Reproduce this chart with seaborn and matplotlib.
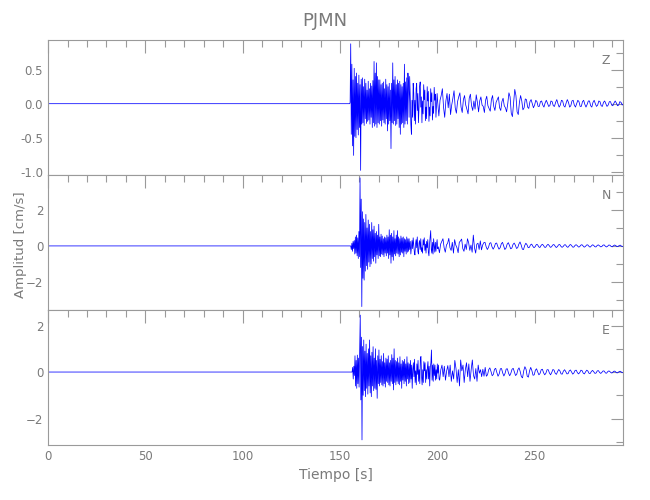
import numpy as np
import pandas as pd
from matplotlib import pyplot as plt
from matplotlib.ticker import MultipleLocator
import seaborn as sns


# ---- Data ---------------------------------------------------------------------

station = "PJMN"
channels = ["Z", "N", "E"]

# quiet part before the arrivals
pre_t = [0.0, 155.0]
pre_vals = [0.0, 0.0]

# strong-motion part, sampled every 0.3 s from the onset
dense_dt = 0.3
dense_start = {"Z": 155.2, "N": 155.5, "E": 156.2}

z_dense = [
    0.02, 0.88, -0.45, 0.58, -0.62, 0.35, -0.76, 0.52, -0.48, 0.40,
    -0.50, 0.45, -0.38, 0.30, -0.46, 0.42, -0.35, 0.28, -0.98, 0.36,
    -0.30, 0.38, -0.28, 0.25, -0.32, 0.36, -0.22, 0.30, -0.29, 0.20,
    -0.26, 0.33, -0.24, 0.22, -0.30, 0.30, -0.20, 0.26, -0.35, 0.34,
    -0.28, 0.62, -0.33, 0.45, -0.30, 0.60, -0.35, 0.40, -0.28, 0.35,
    -0.30, 0.35, -0.25, 0.28, -0.33, 0.30, -0.24, 0.32, -0.28, 0.22,
    -0.30, 0.36, -0.22, 0.28, -0.40, 0.25, -0.30, 0.30, -0.25, 0.20,
    -0.66, 0.30, -0.28, 0.60, -0.30, 0.35, -0.25, 0.40, -0.32, 0.28,
    -0.30, 0.35, -0.22, 0.30, -0.35, 0.33, -0.45, 0.28, -0.30, 0.25,
    -0.28, 0.30, -0.35, 0.58, -0.30, 0.32, -0.25, 0.38, -0.30, 0.45,
    0.30, -0.20, 0.40, 0.10, -0.30, -0.45, 0.05, -0.20, 0.30, 0.15,
    -0.25, 0.05, -0.30, 0.22, 0.30, -0.10, 0.15, -0.28, -0.06, 0.25,
    0.32, -0.05, 0.10, -0.28, 0.04, -0.15, 0.28, 0.06, 0.20, -0.25,
    -0.05, -0.22, 0.25, 0.04, 0.18, -0.26, -0.05, -0.18, 0.22, 0.03,
    0.16, -0.24, -0.04, -0.14, 0.24, 0.05, 0.14, -0.20, -0.03, 0.15,
]

n_dense = [
    0.00, -0.20, 0.15, -0.30, 0.25, -0.15, 0.30, -0.45, 0.50, -0.40,
    0.60, -0.55, 0.45, -0.70, 0.80, -0.60, 3.78, -1.20, 2.60, -3.37,
    1.90, -1.80, 1.50, -1.90, 1.30, -1.40, 1.75, -1.10, 1.00, -1.30,
    1.44, -0.90, 1.20, -1.15, 0.80, -1.00, 1.30, -0.70, 0.90, -0.85,
    1.10, -0.60, 0.70, -0.96, 0.80, -0.50, 0.60, -0.70, 1.20, -0.55,
    0.50, -0.60, 0.65, -0.45, 0.55, -0.50, 0.40, -0.60, 0.50, -0.40,
    0.45, -0.55, 0.60, -0.40, 0.50, -0.70, 0.90, -0.50, 0.60, -0.96,
    0.70, -0.60, 0.50, -0.80, 0.85, -0.45, 0.40, -0.55, 0.60, -0.40,
    0.85, -0.45, 0.50, -0.60, 0.40, -0.50, 0.55, -0.35, 0.45, -0.40,
    0.50, -0.60, 0.40, -0.30, 0.35, -0.45, 0.50, -0.35, 0.40, -0.30,
    0.40, -0.20, 0.25, -0.45, -0.10, 0.30, -0.15, 0.45, 0.05, -0.35,
    -0.50, 0.10, 0.35, -0.10, 0.50, -0.30, -0.45, 0.15, 0.30, -0.20,
    0.40, -0.30, -0.10, -0.40, 0.35, 0.05, 0.45, -0.25, 0.10, -0.40,
    0.25, -0.10, 0.35, -0.35, -0.55, 0.10, 0.50, 0.85, -0.20, -0.40,
    0.20, -0.45, 0.40, 0.05, -0.35, 0.20, -0.30, 0.10, 0.35, -0.15,
]

e_dense = [
    0.00, 0.20, -0.30, 0.25, -0.15, 0.70, -0.60, 0.50, -0.70, 0.73,
    -0.50, 0.60, -0.65, 0.90, 2.45, -1.20, 1.50, -2.92, 1.10, -1.00,
    1.38, -0.80, 0.90, -1.06, 1.20, -0.70, 0.80, -0.95, 1.00, -0.60,
    1.38, -0.90, 0.70, -1.06, 0.85, -0.60, 1.09, -0.80, 0.60, -0.70,
    1.00, -0.75, 0.50, -1.13, 0.70, -0.50, 0.95, -0.60, 0.55, -0.45,
    0.70, -0.55, 0.45, -0.60, 0.80, -0.50, 0.40, -0.65, 0.60, -0.40,
    0.55, -0.45, 0.70, -0.55, 0.40, -0.60, 0.50, -0.40, 0.75, -0.50,
    0.60, -0.77, 1.00, -0.45, 0.50, -0.55, 0.45, -0.40, 0.60, -0.50,
    0.40, -0.55, 0.66, -0.40, 0.35, -0.70, 0.50, -0.35, 0.45, -0.50,
    0.55, -0.40, 0.35, -0.60, 0.66, -0.30, 0.40, -0.50, 0.35, -0.45,
    0.50, -0.30, 0.30, -0.70, 0.10, 0.40, -0.20, 0.55, -0.45, 0.05,
    -0.55, 0.35, -0.10, 0.50, -0.40, 0.10, -0.50, 0.60, 0.67, -0.20,
    -0.55, 0.10, -0.45, 0.45, 0.05, 0.40, -0.45, 0.10, -0.30, 0.20,
    0.45, -0.30, 0.25, -0.60, 0.20, 0.40, 0.95, -0.35, 0.30, -0.40,
    0.35, -0.15, 0.30, -0.35, 0.10, -0.30, 0.35, -0.05, 0.30, -0.30,
]

# coda, sampled every 0.6 s after the strong part
coda_dt = 0.6
coda_start = {"Z": 200.2, "N": 200.5, "E": 201.2}

z_coda = [
    0.02, -0.18, 0.05, 0.12, 0.22, -0.05, -0.20, 0.04, 0.15, -0.06,
    0.14, -0.16, -0.02, 0.08, 0.19, -0.06, -0.14, 0.03, 0.10, 0.16,
    -0.05, -0.13, 0.06, 0.12, -0.02, -0.08, -0.15, 0.08, 0.14, -0.03,
    -0.10, 0.04, -0.08, 0.13, 0.02, -0.12, 0.04, 0.10, -0.02, -0.04,
    -0.13, 0.05, 0.11, -0.03, -0.07, -0.11, 0.06, 0.12, -0.04, -0.10,
    0.02, 0.06, 0.10, -0.06, -0.10, 0.03, 0.08, -0.03, -0.06, -0.12,
    0.00, 0.16, 0.10, -0.14, -0.19, 0.02, 0.21, 0.12, -0.12, -0.16,
    0.02, 0.12, 0.04, -0.09, -0.06, 0.07, 0.06, -0.05, -0.07, 0.03,
    0.06, 0.00, -0.06, -0.02, 0.05, 0.03, -0.04, -0.04, 0.03, 0.04,
    -0.02, -0.05, 0.01, 0.05, 0.01, -0.04, -0.03, 0.04, 0.03, -0.03,
    -0.04, 0.02, 0.06, 0.00, -0.05, -0.02, 0.05, 0.04, -0.03, -0.05,
    0.01, 0.06, 0.02, -0.05, -0.03, 0.04, 0.05, -0.02, -0.05, 0.00,
    0.05, 0.03, -0.04, -0.04, 0.03, 0.05, -0.01, -0.05, -0.01, 0.04,
    0.04, -0.03, -0.05, 0.02, 0.05, 0.00, -0.04, -0.02, 0.04, 0.03,
    -0.03, -0.04, 0.02, 0.04, 0.00, -0.04, -0.02, 0.03, 0.03, -0.02,
    -0.03, 0.01, 0.04, 0.01, -0.03, -0.02, 0.03, 0.02, -0.02, 0.00,
]

n_coda = [
    -0.05, -0.38, 0.10, 0.25, 0.40, -0.10, -0.35, 0.05, 0.15, 0.42,
    -0.10, -0.25, 0.20, -0.40, 0.35, 0.05, -0.10, -0.38, 0.20, 0.28,
    0.38, -0.15, -0.30, 0.10, -0.20, 0.40, 0.18, -0.25, 0.05, -0.35,
    0.60, -0.10, -0.40, 0.10, 0.15, -0.20, 0.28, -0.22, 0.05, 0.18,
    0.20, -0.05, -0.20, -0.08, 0.15, 0.18, -0.05, -0.18, -0.06, 0.14,
    0.16, -0.04, -0.18, -0.10, 0.12, 0.20, 0.00, -0.20, -0.12, 0.10,
    0.18, 0.02, -0.16, -0.12, 0.08, 0.16, 0.04, -0.14, -0.10, 0.10,
    0.22, 0.05, -0.18, -0.20, 0.02, 0.15, 0.06, -0.10, -0.08, 0.06,
    0.10, -0.02, -0.10, -0.04, 0.08, 0.07, -0.05, -0.09, 0.02, 0.09,
    0.04, -0.07, -0.08, 0.03, 0.09, 0.02, -0.08, -0.05, 0.05, 0.08,
    -0.01, -0.09, -0.04, 0.06, 0.08, -0.02, -0.08, -0.03, 0.06, 0.06,
    -0.04, -0.08, 0.00, 0.08, 0.04, -0.06, -0.07, 0.02, 0.07, 0.02,
    -0.06, -0.05, 0.04, 0.07, 0.00, -0.07, -0.03, 0.05, 0.06, -0.02,
    -0.07, -0.01, 0.06, 0.04, -0.04, -0.06, 0.02, 0.06, 0.01, -0.05,
    -0.04, 0.04, 0.06, -0.01, -0.06, -0.02, 0.05, 0.04, -0.03, -0.05,
    0.01, 0.05, 0.02, -0.04, -0.03, 0.03, 0.04, -0.02, -0.03, 0.01,
]

e_coda = [
    -0.35, 0.10, 0.30, -0.20, 0.25, -0.35, 0.05, 0.28, -0.20, 0.30,
    -0.40, 0.05, -0.30, 0.50, 0.15, -0.45, 0.10, -0.60, 0.52, 0.05,
    0.30, -0.45, 0.10, 0.40, -0.20, 0.35, -0.40, 0.10, 0.52, -0.15,
    -0.30, 0.15, -0.40, 0.30, -0.05, 0.10, -0.20, 0.12, -0.18, 0.20,
    -0.18, -0.12, 0.10, 0.18, 0.02, -0.16, -0.10, 0.12, 0.16, -0.02,
    -0.18, -0.08, 0.14, 0.15, -0.04, -0.17, -0.06, 0.13, 0.14, -0.05,
    -0.16, -0.05, 0.12, 0.16, 0.00, -0.15, -0.10, 0.10, 0.18, 0.02,
    -0.20, -0.25, 0.05, 0.23, 0.12, -0.18, -0.22, 0.05, 0.20, 0.06,
    -0.14, -0.12, 0.08, 0.14, 0.00, -0.12, -0.06, 0.10, 0.12, -0.03,
    -0.12, -0.05, 0.10, 0.10, -0.04, -0.12, -0.02, 0.11, 0.08, -0.06,
    -0.10, 0.02, 0.11, 0.05, -0.08, -0.09, 0.04, 0.10, 0.02, -0.08,
    -0.07, 0.05, 0.09, 0.00, -0.09, -0.04, 0.07, 0.08, -0.03, -0.08,
    -0.02, 0.08, 0.06, -0.05, -0.08, 0.01, 0.08, 0.04, -0.06, -0.06,
    0.03, 0.07, 0.01, -0.06, -0.04, 0.05, 0.06, -0.02, -0.06, -0.01,
    0.05, 0.04, -0.04, -0.05, 0.02, 0.05, 0.01, -0.04, -0.03, 0.03,
    0.04, -0.01, -0.04, -0.01, 0.03, 0.03, -0.02, -0.03, 0.01, 0.02,
]

dense_vals = {"Z": z_dense, "N": n_dense, "E": e_dense}
coda_vals = {"Z": z_coda, "N": n_coda, "E": e_coda}

y_limits = {"Z": (-1.048, 0.936), "N": (-3.56, 3.94), "E": (-3.14, 2.67)}
y_major = {"Z": 0.5, "N": 2, "E": 2}
y_minor = {"Z": 0.25, "N": 1, "E": 1}
x_max = 295.6


# ---- Helpers -----------------------------------------------------------------

def build_trace(ch):
    dense = dense_vals[ch]
    coda = coda_vals[ch]
    t_dense = dense_start[ch] + dense_dt * np.arange(len(dense))
    t_coda = coda_start[ch] + coda_dt * np.arange(len(coda))
    t = np.concatenate([pre_t, t_dense, t_coda])
    v = np.concatenate([pre_vals, dense, coda])
    return pd.DataFrame({"t": t, "amp": v})


# ---- Plotting ----------------------------------------------------------------

sns.set_theme(style="white")
gray = "#9a9a9a"
text_gray = "#7a7a7a"
plt.rcParams["font.family"] = ["DejaVu Sans"]
plt.rcParams["axes.edgecolor"] = gray
plt.rcParams["axes.linewidth"] = 0.8

fig, axes = plt.subplots(3, 1, figsize=(6.5, 5), dpi=100, sharex=True)
fig.subplots_adjust(left=0.074, right=0.959, bottom=0.11, top=0.92, hspace=0)

for ax, ch in zip(axes, channels):
    df = build_trace(ch)
    sns.lineplot(data=df, x="t", y="amp", ax=ax, color="#0000ff", lw=0.55,
                 estimator=None, sort=False)

    ax.set_xlim(0, x_max)
    ax.set_ylim(*y_limits[ch])
    ax.xaxis.set_major_locator(MultipleLocator(50))
    ax.xaxis.set_minor_locator(MultipleLocator(10))
    ax.yaxis.set_major_locator(MultipleLocator(y_major[ch]))
    ax.yaxis.set_minor_locator(MultipleLocator(y_minor[ch]))
    ax.tick_params(which="both", direction="in", top=True, right=True,
                   color=gray, labelcolor=text_gray, labelsize=8.5, width=0.8)
    ax.tick_params(which="major", length=9)
    ax.tick_params(which="minor", length=5)
    ax.set_xlabel("")
    ax.set_ylabel("")

    ax.text(0.97, 0.85, ch, transform=ax.transAxes, ha="center", va="center",
            color=text_gray, fontsize=9)

axes[0].yaxis.set_major_formatter(plt.FormatStrFormatter("%.1f"))
axes[-1].set_xlabel("Tiempo [s]", color=text_gray, fontsize=10, labelpad=4)

fig.text(0.032, 0.51, "Amplitud [cm/s]", rotation=90, ha="center", va="center",
         color=text_gray, fontsize=9.5)
fig.suptitle(station, y=0.975, color=text_gray, fontsize=13)

fig.savefig("out.png", dpi=100, facecolor="white")
